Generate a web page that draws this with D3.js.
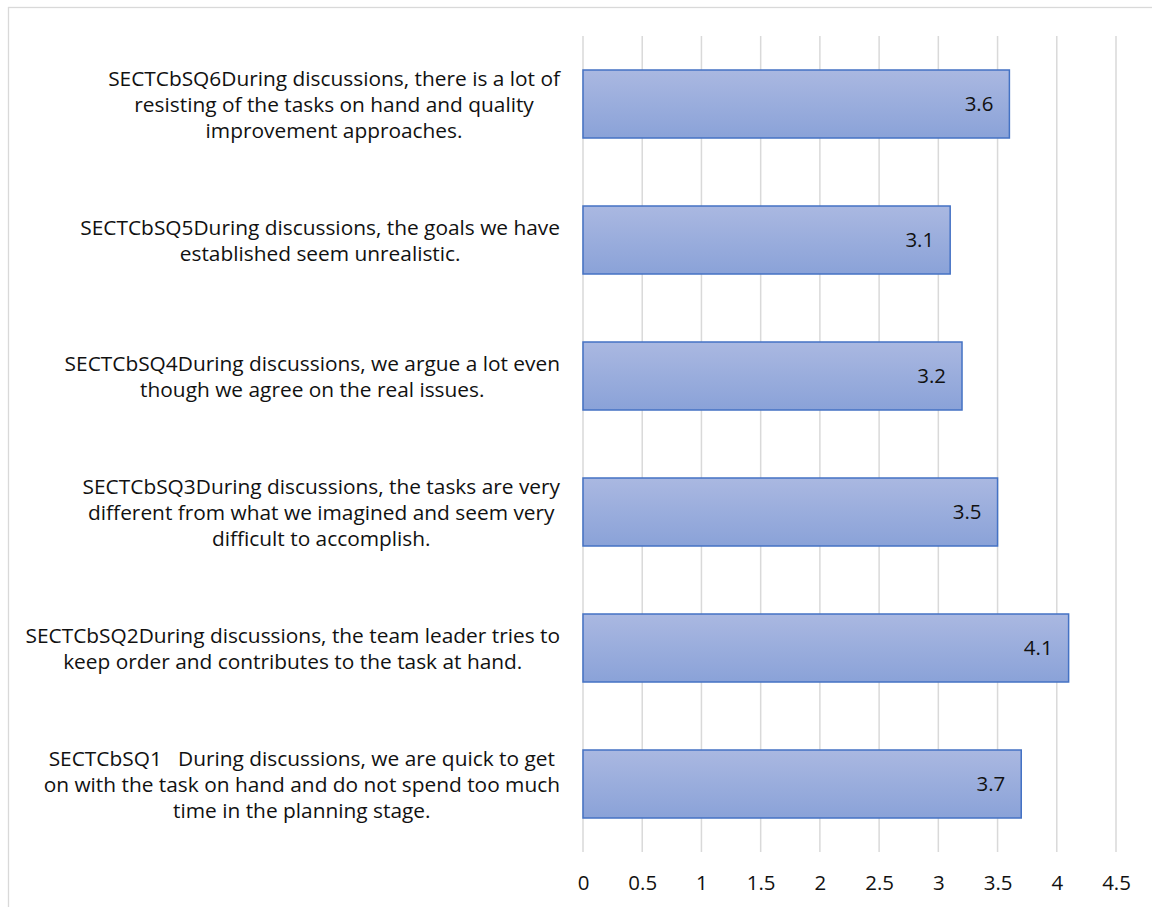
<!DOCTYPE html>
<html>
<head>
<meta charset="utf-8">
<script src="https://cdn.jsdelivr.net/npm/d3@7"></script>
<style>
  html, body { margin: 0; padding: 0; background: #fff; overflow: hidden; }
  svg { display: block; }
  text { font-family: "Open Sans", Lato, sans-serif; }
</style>
</head>
<body>
<svg id="chart" width="1152" height="907"></svg>
<script>
const categories = ["SECTCbSQ1", "SECTCbSQ2", "SECTCbSQ3", "SECTCbSQ4", "SECTCbSQ5", "SECTCbSQ6"];
const labelLines = [
  ["SECTCbSQ1\u00a0\u00a0\u00a0During discussions, we are quick to get", "on with the task on hand and do not spend too much", "time in the planning stage."],
  ["SECTCbSQ2During discussions, the team leader tries to", "keep order and contributes to the task at hand."],
  ["SECTCbSQ3During discussions, the tasks are very", "different from what we imagined and seem very", "difficult to accomplish."],
  ["SECTCbSQ4During discussions, we argue a lot even", "though we agree on the real issues."],
  ["SECTCbSQ5During discussions, the goals we have", "established seem unrealistic."],
  ["SECTCbSQ6During discussions, there is a lot of", "resisting of the tasks on hand and quality", "improvement approaches."]
];
const values = [3.7, 4.1, 3.5, 3.2, 3.1, 3.6];
const xTicks = [0, 0.5, 1, 1.5, 2, 2.5, 3, 3.5, 4, 4.5];

const svg = d3.select("#chart");
const FONT = "'Open Sans', Lato, sans-serif";

// determine a font size so the longest label line matches the reference width (~535px)
const probe = svg.append("text").attr("font-family", FONT).attr("font-size", 20)
  .text(labelLines[1][0]);
const probeW = probe.node().getComputedTextLength();
probe.remove();
const fs = 20 * 535 / probeW;
const fsNum = fs * 0.98;

svg.append("rect")
  .attr("x", 8.5).attr("y", 7.5)
  .attr("width", 1200).attr("height", 1000)
  .attr("fill", "#fff").attr("stroke", "#d9d9d9").attr("stroke-width", 1.3);

const plot = { left: 583, right: 1116, top: 36, bottom: 852 };

const x = d3.scaleLinear().domain([0, 4.5]).range([plot.left, plot.right]);
const y = d3.scaleBand()
  .domain(categories.slice().reverse())
  .range([plot.top, plot.bottom])
  .paddingInner(0.5).paddingOuter(0.25);

const defs = svg.append("defs");
const grad = defs.append("linearGradient").attr("id", "barGrad")
  .attr("x1", 0).attr("y1", 0).attr("x2", 0).attr("y2", 1);
grad.append("stop").attr("offset", "0%").attr("stop-color", "#aab8e1");
grad.append("stop").attr("offset", "100%").attr("stop-color", "#8aa2d8");

svg.append("g").selectAll("line").data(xTicks).join("line")
  .attr("x1", d => x(d)).attr("x2", d => x(d))
  .attr("y1", plot.top).attr("y2", plot.bottom)
  .attr("stroke", "#d9d9d9").attr("stroke-width", 1.5);

const xAxis = d3.axisBottom(x).tickValues(xTicks).tickSize(0).tickPadding(0)
  .tickFormat(d => String(d));
const gx = svg.append("g").attr("transform", `translate(0, ${plot.bottom + 38})`).call(xAxis);
gx.select(".domain").remove();
gx.selectAll("text")
  .attr("font-family", FONT)
  .attr("font-size", fsNum).attr("fill", "#111").attr("dy", 0);

const data = categories.map((c, i) => ({ c, v: values[i], lines: labelLines[i] }));
svg.append("g").selectAll("rect").data(data).join("rect")
  .attr("x", x(0))
  .attr("y", d => y(d.c))
  .attr("width", d => x(d.v) - x(0))
  .attr("height", y.bandwidth())
  .attr("fill", "url(#barGrad)")
  .attr("stroke", "#4472c4").attr("stroke-width", 1.5);

svg.append("g").selectAll("text").data(data).join("text")
  .attr("x", d => x(d.v) - 16)
  .attr("y", d => y(d.c) + y.bandwidth() / 2)
  .attr("dy", "0.36em")
  .attr("text-anchor", "end")
  .attr("font-family", FONT)
  .attr("font-size", fsNum).attr("fill", "#111")
  .text(d => d.v);

const labelRight = 560;
const lineH = 26;
const gl = svg.append("g");
data.forEach(d => {
  const cy = y(d.c) + y.bandwidth() / 2;
  const g = gl.append("g");
  const texts = d.lines.map((ln, k) => g.append("text")
    .attr("font-family", FONT)
    .attr("font-size", fs).attr("fill", "#111")
    .attr("text-anchor", "middle")
    .attr("y", cy + (k - (d.lines.length - 1) / 2) * lineH)
    .attr("dy", "0.36em")
    .text(ln));
  const w = d3.max(texts, t => t.node().getComputedTextLength());
  texts.forEach(t => t.attr("x", labelRight - w / 2));
});
</script>
</body>
</html>
